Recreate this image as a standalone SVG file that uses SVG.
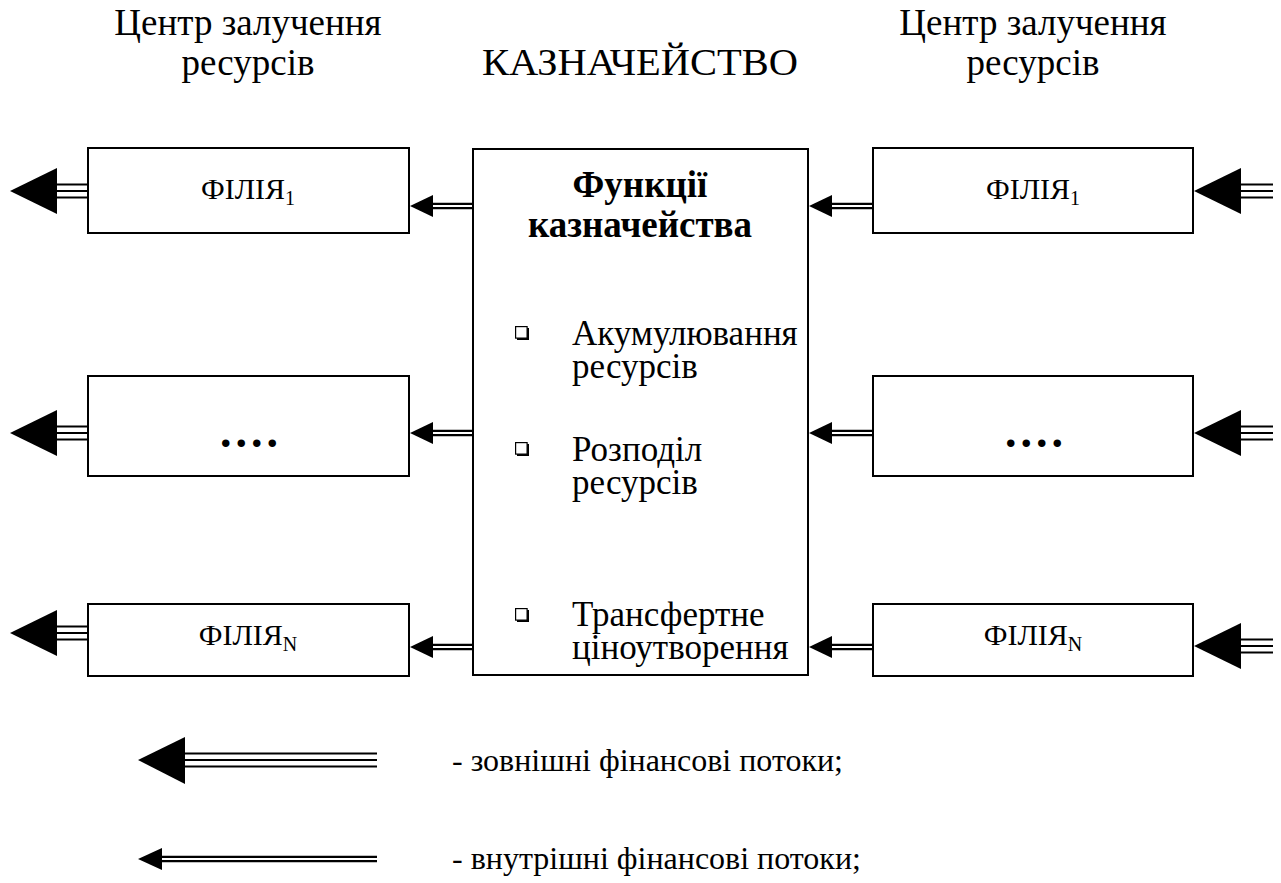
<svg xmlns="http://www.w3.org/2000/svg" xmlns:xlink="http://www.w3.org/1999/xlink" width="1281" height="883" viewBox="0 0 1281 883">
<style>
.box{fill:#fff;stroke:#000;stroke-width:2}
.t{font-family:"Liberation Serif","Times New Roman",serif;fill:#000}
.ln{stroke:#000;stroke-width:2.2;fill:none}
.hd{fill:#000}
.bul{fill:#fff;stroke:#000;stroke-width:1.2}
.sh{fill:#000}
.dots{font-size:46px;font-weight:bold;letter-spacing:4px}
</style>
<defs>
<g id="ext">
<polygon class="hd" points="0,0 47,-23 47,23"/>
<line class="ln" x1="46" y1="-6.5" x2="79" y2="-6.5"/>
<line class="ln" x1="46" y1="0" x2="79" y2="0"/>
<line class="ln" x1="46" y1="6.5" x2="79" y2="6.5"/>
</g>
<g id="int">
<polygon class="hd" points="0,0 23,-11 23,11"/>
<line class="ln" x1="22" y1="-2.2" x2="64" y2="-2.2"/>
<line class="ln" x1="22" y1="2.2" x2="64" y2="2.2"/>
</g>
<g id="bullet">
<rect class="sh" x="2" y="2" width="12" height="12"/>
<rect class="bul" x="0.6" y="0.6" width="11.5" height="11.5"/>
</g>
</defs>
<rect width="1281" height="883" fill="#fff"/>
<g id="titles" class="t" text-anchor="middle">
<text x="248" y="35" font-size="37">Центр залучення</text>
<text x="248" y="75" font-size="37">ресурсів</text>
<text x="640" y="75" font-size="38" textLength="316" lengthAdjust="spacingAndGlyphs">КАЗНАЧЕЙСТВО</text>
<text x="1033" y="35" font-size="37">Центр залучення</text>
<text x="1033" y="75" font-size="37">ресурсів</text>
</g>
<g id="connectors">
<use xlink:href="#ext" x="10" y="191"/>
<use xlink:href="#ext" x="10" y="433"/>
<use xlink:href="#ext" x="10" y="633"/>
<use xlink:href="#ext" x="1194" y="191"/>
<use xlink:href="#ext" x="1194" y="433"/>
<use xlink:href="#ext" x="1194" y="646"/>
<use xlink:href="#int" x="410" y="206"/>
<use xlink:href="#int" x="410" y="433"/>
<use xlink:href="#int" x="410" y="647"/>
<use xlink:href="#int" x="809" y="206"/>
<use xlink:href="#int" x="809" y="433"/>
<use xlink:href="#int" x="809" y="647"/>
</g>
<g id="left-filia-1">
<rect class="box" x="88" y="148" width="321" height="85"/>
<text class="t" x="248" y="199" font-size="30" text-anchor="middle">ФІЛІЯ<tspan font-size="20" dy="6">1</tspan></text>
</g>
<g id="left-filia-dots">
<rect class="box" x="88" y="376" width="321" height="100"/>
<text class="t dots" x="251" y="447" text-anchor="middle">....</text>
</g>
<g id="left-filia-n">
<rect class="box" x="88" y="604" width="321" height="72"/>
<text class="t" x="248" y="645" font-size="30" text-anchor="middle">ФІЛІЯ<tspan font-size="20" dy="6">N</tspan></text>
</g>
<g id="right-filia-1">
<rect class="box" x="873" y="148" width="320" height="85"/>
<text class="t" x="1033" y="199" font-size="30" text-anchor="middle">ФІЛІЯ<tspan font-size="20" dy="6">1</tspan></text>
</g>
<g id="right-filia-dots">
<rect class="box" x="873" y="376" width="320" height="100"/>
<text class="t dots" x="1036" y="447" text-anchor="middle">....</text>
</g>
<g id="right-filia-n">
<rect class="box" x="873" y="604" width="320" height="72"/>
<text class="t" x="1033" y="645" font-size="30" text-anchor="middle">ФІЛІЯ<tspan font-size="20" dy="6">N</tspan></text>
</g>
<g id="treasury">
<rect class="box" x="473" y="149" width="335" height="526"/>
<text class="t" x="640" y="197" font-size="37" font-weight="bold" text-anchor="middle">Функції</text>
<text class="t" x="640" y="237" font-size="37" font-weight="bold" text-anchor="middle">казначейства</text>
<use xlink:href="#bullet" x="515" y="326"/>
<use xlink:href="#bullet" x="515" y="442"/>
<use xlink:href="#bullet" x="515" y="608"/>
<g class="t" font-size="35">
<text x="572" y="345">Акумулювання</text>
<text x="572" y="378">ресурсів</text>
<text x="572" y="461">Розподіл</text>
<text x="572" y="494">ресурсів</text>
<text x="572" y="626">Трансфертне</text>
<text x="572" y="659">ціноутворення</text>
</g>
</g>
<g id="legend">
<polygon class="hd" points="138,760 185,737 185,784"/>
<line class="ln" x1="184" y1="753.5" x2="377" y2="753.5"/>
<line class="ln" x1="184" y1="760" x2="377" y2="760"/>
<line class="ln" x1="184" y1="766.5" x2="377" y2="766.5"/>
<polygon class="hd" points="138,859 162,848 162,870"/>
<line class="ln" x1="161" y1="856.8" x2="377" y2="856.8"/>
<line class="ln" x1="161" y1="861.2" x2="377" y2="861.2"/>
<text class="t" x="452" y="771" font-size="32">- зовнішні фінансові потоки;</text>
<text class="t" x="452" y="869" font-size="32">- внутрішні фінансові потоки;</text>
</g>
</svg>
